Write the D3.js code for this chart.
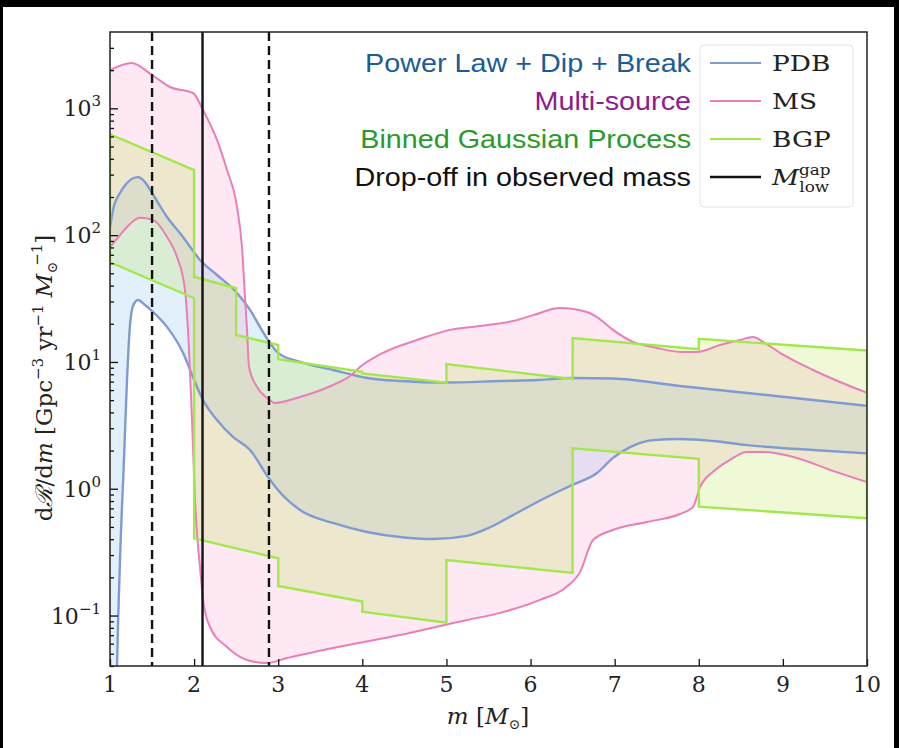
<!DOCTYPE html>
<html>
<head>
<meta charset="utf-8">
<script src="https://cdn.jsdelivr.net/npm/d3@7"></script>
<style>
  body { margin: 0; background: #ffffff; }
  svg { display: block; }
</style>
</head>
<body>
<svg id="chart" width="899" height="748"></svg>
<script>
// ---- data -------------------------------------------------------------
const massTicks = [1, 2, 3, 4, 5, 6, 7, 8, 9, 10];
const rateDecades = [0.1, 1, 10, 100, 1000];
const rateDecadeExponents = ["−1", "0", "1", "2", "3"];

// Drop-off in observed mass: median and 90% interval
const gapMedian = 2.1;
const gapInterval = [1.5, 2.89];

// Power Law + Dip + Break (PDB) 90% band
const pdbUpperMass = [1.0, 1.036, 1.119, 1.202, 1.333, 1.416, 1.5, 1.678, 1.868, 2.07, 2.272, 2.51, 2.665, 2.783, 2.878, 2.997, 3.259, 3.651, 4.056, 4.448, 5.007, 5.637, 6.089, 6.493, 6.98, 7.777, 8.573, 9.358, 10.0];
const pdbUpperRate = [114, 158, 215, 258, 287, 262, 215, 139, 96.7, 63.7, 48.5, 35.0, 25.7, 18.9, 14.9, 11.8, 10.0, 8.64, 7.47, 7.07, 6.88, 7.07, 7.20, 7.47, 7.40, 6.46, 5.69, 5.01, 4.50];
const pdbLowerMass = [1.0, 1.06, 1.08, 1.119, 1.166, 1.202, 1.238, 1.273, 1.333, 1.416, 1.5, 1.678, 1.868, 1.999, 2.106, 2.272, 2.462, 2.665, 2.878, 2.997, 3.259, 3.651, 4.056, 4.448, 4.84, 5.244, 5.5, 5.791, 6.196, 6.493, 6.79, 6.98, 7.182, 7.456, 7.777, 8.169, 8.573, 9.358, 10.0];
const pdbLowerRate = [0.001, 0.004, 0.03, 0.274, 1.69, 7.20, 19.6, 27.6, 30.8, 28.1, 25.2, 18.9, 11.8, 7.2, 5.01, 3.48, 2.56, 2.02, 1.24, 0.977, 0.68, 0.537, 0.456, 0.416, 0.401, 0.425, 0.49, 0.62, 0.861, 1.07, 1.33, 1.75, 2.13, 2.42, 2.47, 2.38, 2.21, 2.02, 1.90];

// Multi-source (MS) 90% band
const msUpperMass = [1.0, 1.258, 1.5, 1.713, 1.987, 2.106, 2.272, 2.391, 2.51, 2.569, 2.605, 2.629, 2.653, 2.748, 2.867, 2.962, 3.259, 3.651, 3.853, 3.972, 4.246, 4.65, 5.042, 5.399, 5.791, 6.029, 6.35, 6.671, 6.79, 6.98, 7.218, 7.503, 7.777, 7.979, 8.252, 8.49, 8.645, 8.764, 8.966, 9.358, 10.0];
const msUpperRate = [2006, 2278, 1832, 1473, 1321, 970, 563, 326, 167, 80.6, 32.5, 17.9, 9.12, 6.34, 5.19, 4.75, 5.29, 6.58, 7.75, 9.12, 11.8, 14.9, 17.9, 19.2, 21.0, 23.4, 26.6, 24.8, 22.6, 17.9, 14.4, 12.9, 12.0, 12.0, 13.6, 14.9, 15.7, 14.4, 11.8, 8.64, 5.70];
const msLowerMass = [1.0, 1.119, 1.202, 1.357, 1.511, 1.678, 1.797, 1.892, 1.927, 1.975, 2.011, 2.034, 2.07, 2.106, 2.189, 2.391, 2.629, 2.867, 3.104, 3.651, 4.448, 5.244, 5.637, 6.112, 6.41, 6.588, 6.743, 6.98, 7.384, 7.777, 7.932, 8.015, 8.169, 8.371, 8.573, 8.764, 9.168, 9.56, 10.0];
const msLowerRate = [80.6, 100, 116, 137, 132, 96.7, 67.2, 36.9, 17.9, 3.48, 0.815, 0.448, 0.241, 0.133, 0.0812, 0.0565, 0.0446, 0.0422, 0.0462, 0.0555, 0.0702, 0.0922, 0.105, 0.133, 0.165, 0.22, 0.394, 0.473, 0.547, 0.632, 0.718, 1.03, 1.36, 1.69, 1.95, 1.95, 1.75, 1.41, 1.13];

// Binned Gaussian Process (BGP): bin edges and band edge at each bin's ends
const bgpBinEdges = [1, 2, 2.5, 3, 4, 5, 6.5, 8, 10];
const bgpUpperStart = [624, 47.0, 16.3, 10.5, 8.1, 9.63, 15.4, 15.2];
const bgpUpperEnd = [326, 38.1, 13.6, 8.37, 6.86, 7.33, 12.6, 12.3];
const bgpLowerStart = [61.1, 0.406, 0.339, 0.171, 0.107, 0.274, 2.08, 0.722];
const bgpLowerEnd = [31.8, 0.339, 0.283, 0.129, 0.0878, 0.217, 1.72, 0.585];

const legendModels = ["Power Law + Dip + Break", "Multi-source", "Binned Gaussian Process", "Drop-off in observed mass"];
const legendKeys = ["PDB", "MS", "BGP"];

// ---- layout -----------------------------------------------------------
const svg = d3.select("#chart");
const W = 899, H = 748;
const plot = { left: 110, right: 867, top: 32, bottom: 666 };

const x = d3.scaleLinear().domain([1, 10]).range([plot.left, plot.right]);
const y = d3.scaleLog().domain([0.04, 4000]).range([plot.bottom, plot.top]);

const colors = {
  pdbLine: "#7f9bd1", pdbFill: "#8cc4ee",
  msLine: "#ea7fb8", msFill: "#f7a3d2",
  bgpLine: "#a2e84c", bgpFill: "#b5e246"
};

svg.append("rect").attr("width", W).attr("height", H).attr("fill", "#ffffff");

svg.append("defs").append("clipPath").attr("id", "plot-clip")
  .append("rect")
  .attr("x", plot.left).attr("y", plot.top)
  .attr("width", plot.right - plot.left).attr("height", plot.bottom - plot.top);

const layer = svg.append("g").attr("clip-path", "url(#plot-clip)");

const zip = (ms, vs) => ms.map((m, i) => [m, vs[i]]);
const smooth = d3.line().x(d => x(d[0])).y(d => y(d[1])).curve(d3.curveMonotoneX);
const straight = d3.line().x(d => x(d[0])).y(d => y(d[1]));

function bandPath(upper, lower, gen) {
  const top = gen(upper);
  const bottom = gen(lower.slice().reverse()).replace(/^M/, "L");
  return top + bottom + "Z";
}

// band definitions
const pdbUp = zip(pdbUpperMass, pdbUpperRate);
const pdbLo = zip(pdbLowerMass, pdbLowerRate);
const msUp = zip(msUpperMass, msUpperRate);
const msLo = zip(msLowerMass, msLowerRate);

const bgpUp = [], bgpLo = [];
for (let i = 0; i < bgpBinEdges.length - 1; i++) {
  bgpUp.push([bgpBinEdges[i], bgpUpperStart[i]], [bgpBinEdges[i + 1], bgpUpperEnd[i]]);
  bgpLo.push([bgpBinEdges[i], bgpLowerStart[i]], [bgpBinEdges[i + 1], bgpLowerEnd[i]]);
}

// fills
layer.append("path").attr("d", bandPath(pdbUp, pdbLo, smooth))
  .attr("fill", colors.pdbFill).attr("fill-opacity", 0.25);
layer.append("path").attr("d", bandPath(msUp, msLo, smooth))
  .attr("fill", colors.msFill).attr("fill-opacity", 0.25);
layer.append("path").attr("d", bandPath(bgpUp, bgpLo, straight))
  .attr("fill", colors.bgpFill).attr("fill-opacity", 0.22);

// band outlines
[pdbUp, pdbLo].forEach(pts =>
  layer.append("path").attr("d", smooth(pts)).attr("fill", "none")
    .attr("stroke", colors.pdbLine).attr("stroke-width", 2.4));
[msUp, msLo].forEach(pts =>
  layer.append("path").attr("d", smooth(pts)).attr("fill", "none")
    .attr("stroke", colors.msLine).attr("stroke-width", 2));
layer.append("path").attr("d", bandPath(bgpUp, bgpLo, straight))
  .attr("fill", "none").attr("stroke", colors.bgpLine).attr("stroke-width", 2.4)
  .attr("stroke-linejoin", "miter");

// drop-off markers
gapInterval.forEach(m =>
  layer.append("line")
    .attr("x1", x(m)).attr("x2", x(m)).attr("y1", plot.top).attr("y2", plot.bottom)
    .attr("stroke", "#111").attr("stroke-width", 2.4).attr("stroke-dasharray", "9,5"));
layer.append("line")
  .attr("x1", x(gapMedian)).attr("x2", x(gapMedian)).attr("y1", plot.top).attr("y2", plot.bottom)
  .attr("stroke", "#111").attr("stroke-width", 2.4);

// ---- axes -------------------------------------------------------------
const serif = "'DejaVu Serif', 'Liberation Serif', serif";
const sans = "'Liberation Sans', Arial, sans-serif";

const minorRates = [];
[0.01, 0.1, 1, 10, 100, 1000].forEach(d => {
  for (let k = 2; k <= 9; k++) {
    const v = d * k;
    if (v >= 0.04 && v < 4000) minorRates.push(v);
  }
});

const yAxis = svg.append("g").attr("transform", `translate(${plot.left},0)`)
  .call(d3.axisLeft(y).tickValues(rateDecades).tickSizeInner(-8).tickSizeOuter(0).tickFormat(""));
const yMinor = svg.append("g").attr("transform", `translate(${plot.left},0)`)
  .call(d3.axisLeft(y).tickValues(minorRates).tickSizeInner(-4).tickSizeOuter(0).tickFormat(""));

const xAxis = svg.append("g").attr("transform", `translate(0,${plot.bottom})`)
  .call(d3.axisBottom(x).tickValues(massTicks).tickSizeInner(-7).tickSizeOuter(0).tickFormat(""));

[yAxis, yMinor, xAxis].forEach(g => {
  g.select(".domain").remove();
  g.selectAll("line").attr("stroke", "#111").attr("stroke-width", 1.3);
});

// frame
svg.append("rect")
  .attr("x", plot.left).attr("y", plot.top)
  .attr("width", plot.right - plot.left).attr("height", plot.bottom - plot.top)
  .attr("fill", "none").attr("stroke", "#222").attr("stroke-width", 1.5);

// y tick labels: 10^k
rateDecades.forEach((d, i) => {
  const t = svg.append("text")
    .attr("x", 101).attr("y", y(d) + 8)
    .attr("text-anchor", "end")
    .attr("font-family", serif).attr("font-size", 22).attr("fill", "#222");
  t.append("tspan").text("10");
  t.append("tspan").attr("dy", -10).attr("font-size", 15).text(rateDecadeExponents[i]);
});

// x tick labels
massTicks.forEach(m => {
  svg.append("text")
    .attr("x", x(m)).attr("y", 692)
    .attr("text-anchor", "middle")
    .attr("font-family", serif).attr("font-size", 22).attr("fill", "#222")
    .text(m);
});

// x axis title: m [M_sun]
{
  const t = svg.append("text")
    .attr("x", 488).attr("y", 724)
    .attr("text-anchor", "middle")
    .attr("font-family", serif).attr("font-size", 23).attr("fill", "#222");
  t.append("tspan").attr("font-style", "italic").text("m");
  t.append("tspan").text(" [");
  t.append("tspan").attr("font-style", "italic").text("M");
  t.append("tspan").attr("dy", 5).attr("font-size", 14).text("⊙");
  t.append("tspan").attr("dy", -5).text("]");
}

// y axis title: dR/dm [Gpc^-3 yr^-1 M_sun^-1]
{
  const t = svg.append("text")
    .attr("transform", "translate(52,378) rotate(-90)")
    .attr("text-anchor", "middle")
    .attr("font-family", serif).attr("font-size", 23).attr("fill", "#222");
  t.append("tspan").text("d");
  t.append("tspan").attr("font-style", "italic").text("ℛ");
  t.append("tspan").text("/d");
  t.append("tspan").attr("font-style", "italic").text("m");
  t.append("tspan").text(" [Gpc");
  t.append("tspan").attr("dy", -9).attr("font-size", 15).text("−3");
  t.append("tspan").attr("dy", 9).text(" yr");
  t.append("tspan").attr("dy", -9).attr("font-size", 15).text("−1");
  t.append("tspan").attr("dy", 9).text(" ");
  t.append("tspan").attr("font-style", "italic").text("M");
  t.append("tspan").attr("dy", 5).attr("font-size", 14).text("⊙");
  t.append("tspan").attr("dy", -15).attr("dx", -4).attr("font-size", 15).text("−1");
  t.append("tspan").attr("dy", 10).text("]");
}

// ---- legend -----------------------------------------------------------
const rowY = [63, 101, 139, 177];
const modelColors = ["#1b5c98", "#8c1d8c", "#2a9a2a", "#111111"];
const keyColors = [colors.pdbLine, colors.msLine, colors.bgpLine, "#111111"];

svg.append("rect")
  .attr("x", 700).attr("y", 45).attr("width", 153).attr("height", 162).attr("rx", 4)
  .attr("fill", "#ffffff").attr("fill-opacity", 0.85)
  .attr("stroke", "#e2e2e2").attr("stroke-width", 1);

// model names, right-aligned beside the legend box (slightly wide face)
const modelNames = svg.append("g").attr("transform", "translate(691,0) scale(1.15,1)");
legendModels.forEach((label, i) => {
  modelNames.append("text")
    .attr("x", 0).attr("y", rowY[i] + 9)
    .attr("text-anchor", "end")
    .attr("font-family", sans).attr("font-size", 25)
    .attr("fill", modelColors[i]).text(label);
});
legendModels.forEach((label, i) => {
  svg.append("line")
    .attr("x1", 710).attr("x2", 761).attr("y1", rowY[i]).attr("y2", rowY[i])
    .attr("stroke", keyColors[i]).attr("stroke-width", i === 3 ? 2.6 : 2);
});

const keyNames = svg.append("g").attr("transform", "translate(772,0) scale(1.2,1)");
legendKeys.forEach((k, i) => {
  keyNames.append("text")
    .attr("x", 0).attr("y", rowY[i] + 8)
    .attr("font-family", serif).attr("font-size", 22).attr("fill", "#222")
    .text(k);
});
{
  const t = keyNames.append("text")
    .attr("x", 0).attr("y", rowY[3] + 8)
    .attr("font-family", serif).attr("font-size", 22).attr("fill", "#222");
  t.append("tspan").attr("font-style", "italic").text("M");
  t.append("tspan").attr("dy", -10).attr("font-size", 14).text("gap");
  t.append("tspan").attr("dy", 17).attr("dx", -26).attr("font-size", 14).text("low");
}

// ---- black page edge ----------------------------------------------------
svg.append("rect").attr("x", 0).attr("y", 0).attr("width", W).attr("height", 7).attr("fill", "#000");
svg.append("rect").attr("x", 0).attr("y", 0).attr("width", 3).attr("height", H).attr("fill", "#000");
svg.append("rect").attr("x", W - 5).attr("y", 0).attr("width", 5).attr("height", H).attr("fill", "#000");
</script>
</body>
</html>
